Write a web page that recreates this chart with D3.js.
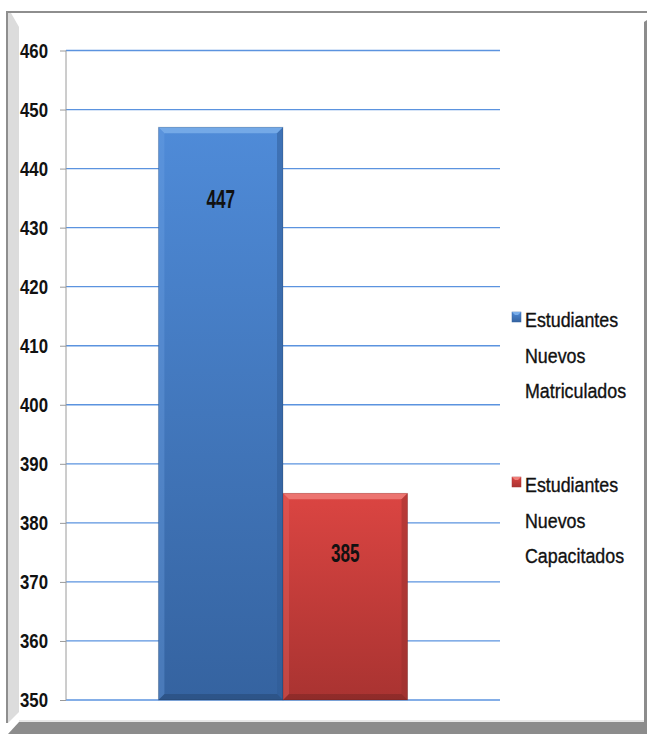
<!DOCTYPE html>
<html><head><meta charset="utf-8">
<script src="https://cdn.jsdelivr.net/npm/d3@7"></script>
<style>
body{margin:0;background:#fff;}
svg{display:block;}
text{font-family:"Liberation Sans",Arial,sans-serif;}
</style></head><body>
<svg id="c" width="647" height="734"></svg>
<script>
const categories = [""];
const seriesNames = ["Estudiantes Nuevos Matriculados", "Estudiantes Nuevos Capacitados"];
const legendLines = [["Estudiantes","Nuevos","Matriculados"],["Estudiantes","Nuevos","Capacitados"]];
const seriesValues = [447, 385];
const tickValues = [350,360,370,380,390,400,410,420,430,440,450,460];

const svg = d3.select("#c");
const W = 647, H = 734;
const SX = 0.8;
const LABEL_CENTER_DY = [71, 59];

// frame
svg.append("rect").attr("x",0).attr("y",0).attr("width",W).attr("height",H).attr("fill","#fff");
svg.append("rect").attr("x",6).attr("y",11).attr("width",W-6).attr("height",2).attr("fill","#8e8e8e");
svg.append("rect").attr("x",6).attr("y",11).attr("width",2).attr("height",712).attr("fill","#8e8e8e");
svg.append("polygon").attr("points","8,13 11,13 19,27 19,712 8,723").attr("fill","#dcdcdc");
svg.append("polygon").attr("points","644,22 647,20 647,734 644,734").attr("fill","#8c8c8c");
svg.append("polygon").attr("points","8,734 19,722 647,722 647,734").attr("fill","#8c8c8c");
svg.append("rect").attr("x",19).attr("y",720).attr("width",625).attr("height",2).attr("fill","#e8e8e8");

const x0 = d3.scaleBand().domain(categories).range([66,500]).paddingInner(0).paddingOuter(0.371);
const x1 = d3.scaleBand().domain(seriesNames).range([0,x0.bandwidth()]).padding(0);
const y = d3.scaleLinear().domain([350,460]).range([700,50.5]);

const defs = svg.append("defs");
const cols = [{top:"#4f8bd8",bot:"#3563a0",edgeL:"#6fa3e6",edgeR:"#2d5a94",edgeT:"#7aaeea"},
              {top:"#db4542",bot:"#a93331",edgeL:"#e86a66",edgeR:"#98302e",edgeT:"#ef7d78"}];
cols.forEach((c,i)=>{
  const g = defs.append("linearGradient").attr("id","g"+i).attr("x1",0).attr("y1",0).attr("x2",0).attr("y2",1);
  g.append("stop").attr("offset","0%").attr("stop-color",c.top);
  g.append("stop").attr("offset","100%").attr("stop-color",c.bot);
});

// gridlines
svg.append("g").selectAll("line").data(tickValues).join("line")
  .attr("x1",66).attr("x2",500).attr("y1",d=>y(d)).attr("y2",d=>y(d))
  .attr("stroke","#5b93df").attr("stroke-width",1.3);

// axis
const axis = d3.axisLeft(y).tickValues(tickValues).tickSize(6).tickFormat(d3.format("d"));
const ag = svg.append("g").attr("transform","translate(66,0)").call(axis);
ag.select(".domain").attr("stroke","#9a9a9a").attr("d","M0,"+y(460)+"V"+y(350));
ag.selectAll(".tick line").attr("stroke","#9a9a9a");
ag.selectAll(".tick text").attr("x",-18/SX).attr("transform",`scale(${SX},1)`)
  .attr("font-size",21).attr("font-weight","bold").attr("fill","#111")
  .style("font-family",'"Liberation Sans",Arial,sans-serif');

// bars
const bars = svg.append("g");
seriesValues.forEach((v,i)=>{
  const bx = x0(categories[0]) + x1(seriesNames[i]);
  const bw = x1.bandwidth();
  const by = y(v), bb = y(350);
  const c = cols[i];
  const g = bars.append("g");
  g.append("rect").attr("x",bx).attr("y",by).attr("width",bw).attr("height",bb-by).attr("fill","url(#g"+i+")");
  const e = 6;
  g.append("polygon").attr("points",`${bx},${by} ${bx+bw},${by} ${bx+bw-e},${by+e} ${bx+e},${by+e}`).attr("fill",c.edgeT).attr("opacity",0.85);
  g.append("polygon").attr("points",`${bx},${by} ${bx+e},${by+e} ${bx+e},${bb-e} ${bx},${bb}`).attr("fill",c.edgeL).attr("opacity",0.35);
  g.append("polygon").attr("points",`${bx+bw},${by} ${bx+bw-e},${by+e} ${bx+bw-e},${bb-e} ${bx+bw},${bb}`).attr("fill",c.edgeR).attr("opacity",0.5);
  g.append("polygon").attr("points",`${bx},${bb} ${bx+e},${bb-e} ${bx+bw-e},${bb-e} ${bx+bw},${bb}`).attr("fill","#000").attr("opacity",0.15);
  g.append("rect").attr("x",bx).attr("y",by).attr("width",bw).attr("height",bb-by).attr("fill","none").attr("stroke","#000").attr("stroke-opacity",0.15).attr("stroke-width",1);
  g.append("text").attr("transform",`translate(${bx+bw/2},${by+LABEL_CENTER_DY[i]+9.5}) scale(0.66,1)`).attr("text-anchor","middle")
    .attr("font-size",26).attr("font-weight","bold").attr("fill","#111").text(v);
});

// legend
const leg = svg.append("g");
legendLines.forEach((lines,i)=>{
  const top = i===0 ? 320 : 485;
  const c = cols[i];
  leg.append("rect").attr("x",512).attr("y",top-8).attr("width",9).attr("height",10).attr("fill","url(#g"+i+")").attr("stroke",c.bot).attr("stroke-width",0.5);
  leg.append("polygon").attr("points",`${512},${top-8} ${521},${top-8} ${518},${top-5} ${515},${top-5}`).attr("fill",c.edgeT);
  lines.forEach((t,j)=>{
    leg.append("text").attr("transform",`translate(525,${top+7+j*35.5}) scale(0.87,1)`)
      .attr("font-size",20.5).attr("fill","#111").attr("stroke","#111").attr("stroke-width",0.35).text(t);
  });
});
</script></body></html>
